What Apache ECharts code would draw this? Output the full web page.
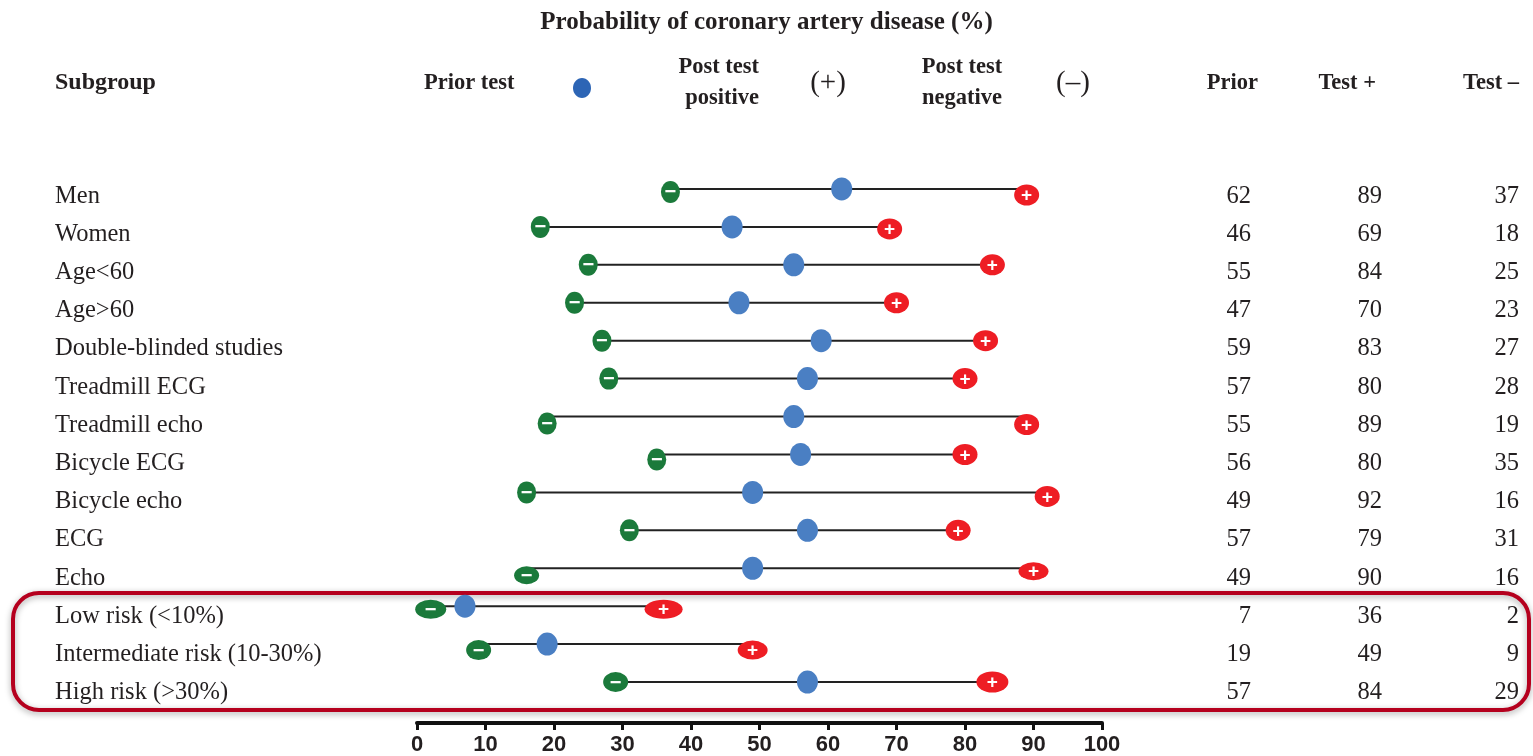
<!DOCTYPE html>
<html><head><meta charset="utf-8">
<script src="https://cdn.jsdelivr.net/npm/echarts@6/dist/echarts.min.js"></script>
<style>html,body{margin:0;padding:0;background:#fff}#c{width:1533px;height:756px}</style>
</head><body><div id="c"></div>
<script>
// ---- data ----
const subgroups = ['Men','Women','Age<60','Age>60','Double-blinded studies','Treadmill ECG','Treadmill echo','Bicycle ECG','Bicycle echo','ECG','Echo','Low risk (<10%)','Intermediate risk (10-30%)','High risk (>30%)'];
const prior   = [62,46,55,47,59,57,55,56,49,57,49,7,19,57];
const testPos = [89,69,84,70,83,80,89,80,92,79,90,36,49,84];
const testNeg = [37,18,25,23,27,28,19,35,16,31,16,2,9,29];
const xTicks  = [0,10,20,30,40,50,60,70,80,90,100];

// ---- marker styling (pixel nudges / sizes as drawn in the original figure) ----
const negNudge = [3,0,0,0,0,0,7,5,0,0,7,3,6,0];
const posNudge = [6,2,0,0,0,0,8,0,4,0,3,3,6,0];
const negSize = { 10: [25, 18], 11: [31, 19], 12: [25, 20], 13: [25, 20] };
const posSize = { 10: [30, 18], 11: [38, 19], 12: [30, 19], 13: [32, 21] };

const SERIF = '"Liberation Serif","Times New Roman",serif';
const SANS = '"Liberation Sans",Arial,sans-serif';
const NARROW = '"Liberation Sans Narrow","Arial Narrow","Liberation Sans",sans-serif';
const TXT = '#231f20';
const idx = subgroups.map((_, i) => i);

const chart = echarts.init(document.getElementById('c'));
const hdr = (text, x, y, align, size, bold) => ({
  type: 'text', x: x, y: y,
  style: { text: text, fill: TXT, font: (bold ? 'bold ' : '') + size + 'px ' + SERIF,
           textAlign: align, textVerticalAlign: 'middle' }
});
const numAxis = (data, margin) => ({
  type: 'category', gridIndex: 1, inverse: true, data: data, position: 'right',
  axisLine: { show: false }, axisTick: { show: false },
  axisLabel: { align: 'right', margin: margin, fontFamily: SERIF, fontSize: 24.5, color: TXT }
});
chart.setOption({
  animation: false,
  title: { text: 'Probability of coronary artery disease (%)', left: 'center', top: 5,
    textStyle: { fontFamily: SERIF, fontWeight: 'bold', fontSize: 25, color: TXT } },
  grid: [
    { left: 417, right: 431, top: 170, bottom: 54 },
    { left: 55, right: 14, top: 177, bottom: 44 }
  ],
  xAxis: [
    { type: 'value', gridIndex: 0, min: xTicks[0], max: xTicks[xTicks.length - 1], interval: 10, offset: 22,
      axisLine: { show: true, lineStyle: { color: '#111', width: 4 } },
      axisTick: { show: true, length: 7, lineStyle: { color: '#111', width: 3 } },
      axisLabel: { margin: 11, fontFamily: NARROW, fontWeight: 'bold', fontSize: 22, color: TXT },
      splitLine: { show: false } },
    { type: 'value', gridIndex: 1, show: false, min: 0, max: 1 }
  ],
  yAxis: [
    { type: 'category', gridIndex: 0, inverse: true, data: subgroups, show: false },
    { type: 'category', gridIndex: 1, inverse: true, data: subgroups, position: 'left',
      axisLine: { show: false }, axisTick: { show: false },
      axisLabel: { align: 'left', margin: 0, fontFamily: SERIF, fontSize: 24.5, color: TXT } },
    numAxis(prior, -268),
    numAxis(testPos, -137),
    numAxis(testNeg, 0)
  ],
  series: [
    { type: 'custom', xAxisIndex: 0, yAxisIndex: 0, z: 1,
      data: idx.map(i => [testNeg[i], testPos[i], i]),
      renderItem: function (params, api) {
        const a = api.coord([api.value(0), api.value(2)]);
        const b = api.coord([api.value(1), api.value(2)]);
        return { type: 'line', shape: { x1: a[0], y1: a[1], x2: b[0], y2: b[1] },
                 style: { stroke: '#222', lineWidth: 2 } };
      } },
    { type: 'scatter', name: 'Post test negative', xAxisIndex: 0, yAxisIndex: 0, z: 3,
      symbol: 'circle',
      itemStyle: { color: '#1b7a3b', opacity: 1 },
      label: { show: true, position: 'inside', formatter: '\u2212', color: '#fff',
               align: 'center', verticalAlign: 'middle', offset: [0, 1],
               fontFamily: SANS, fontWeight: 'bold', fontSize: 20 },
      data: idx.map(i => ({ value: [testNeg[i], i], symbolSize: negSize[i] || [19, 22],
                            symbolOffset: [0, negNudge[i]] })) },
    { type: 'scatter', name: 'Post test positive', xAxisIndex: 0, yAxisIndex: 0, z: 3,
      symbol: 'circle',
      itemStyle: { color: '#ee1d24', opacity: 1 },
      label: { show: true, position: 'inside', formatter: '+', color: '#fff',
               align: 'center', verticalAlign: 'middle', offset: [0, 1],
               fontFamily: SANS, fontWeight: 'bold', fontSize: 19 },
      data: idx.map(i => ({ value: [testPos[i], i], symbolSize: posSize[i] || [25, 21],
                            symbolOffset: [0, posNudge[i]] })) },
    { type: 'scatter', name: 'Prior test', xAxisIndex: 0, yAxisIndex: 0, z: 4,
      symbol: 'circle', symbolSize: [21, 23],
      itemStyle: { color: '#4a7fc3', opacity: 1 },
      data: idx.map(i => [prior[i], i]) }
  ],
  graphic: [
    hdr('Subgroup', 55, 83, 'left', 24, true),
    hdr('Prior test', 424, 83, 'left', 22.5, true),
    { type: 'ellipse', shape: { cx: 582, cy: 88, rx: 9, ry: 10 }, style: { fill: '#2d65b5' } },
    hdr('Post test', 759, 67, 'right', 22.5, true),
    hdr('positive', 759, 98, 'right', 22.5, true),
    hdr('(+)', 828, 83, 'center', 29, false),
    hdr('Post test', 962, 67, 'center', 22.5, true),
    hdr('negative', 962, 98, 'center', 22.5, true),
    hdr('(\u2013)', 1073, 83, 'center', 29, false),
    hdr('Prior', 1258, 83, 'right', 22.5, true),
    hdr('Test +', 1376, 83, 'right', 22.5, true),
    hdr('Test \u2013', 1519, 83, 'right', 22.5, true),
    { type: 'rect', z: 0, shape: { x: 13, y: 593, width: 1516, height: 117, r: 26 },
      style: { fill: 'none', stroke: '#b5001e', lineWidth: 4,
               shadowBlur: 6, shadowColor: 'rgba(0,0,0,0.35)', shadowOffsetY: 2 } }
  ]
});
</script></body></html>
